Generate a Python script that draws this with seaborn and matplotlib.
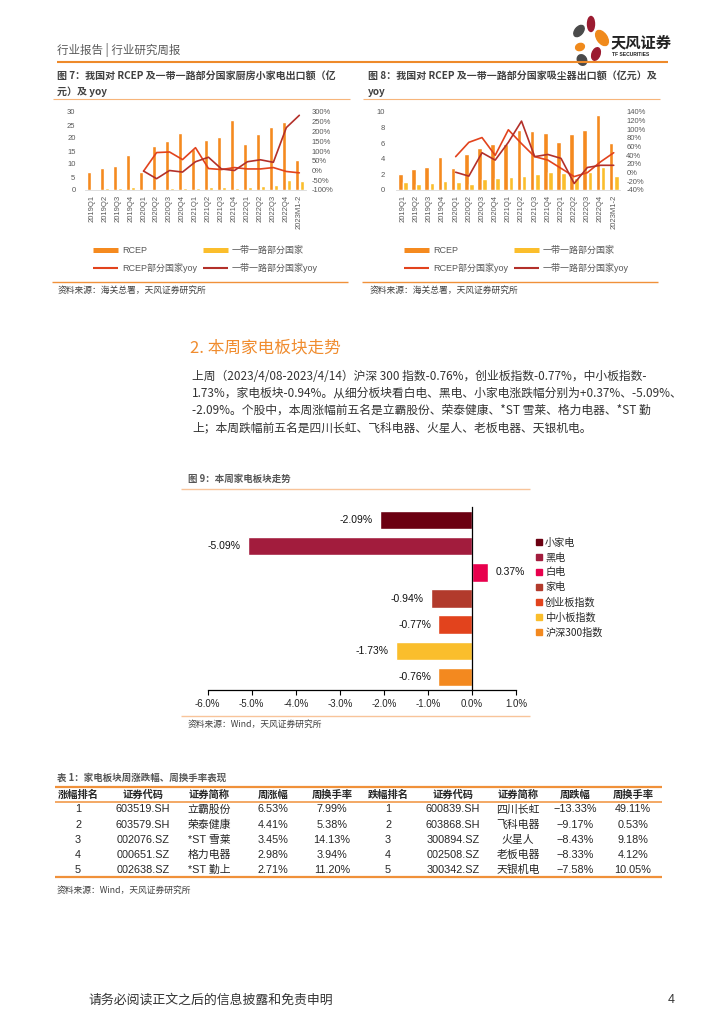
import numpy as np
import pandas as pd
import matplotlib
matplotlib.use("Agg")
import matplotlib.pyplot as plt
import seaborn as sns
from matplotlib.lines import Line2D
from matplotlib.patches import Ellipse
from matplotlib.ticker import FuncFormatter, MultipleLocator

# ---------------------------------------------------------------------------
# Data
# ---------------------------------------------------------------------------
QUARTERS = ["2019Q1", "2019Q2", "2019Q3", "2019Q4", "2020Q1", "2020Q2", "2020Q3",
            "2020Q4", "2021Q1", "2021Q2", "2021Q3", "2021Q4", "2022Q1", "2022Q2",
            "2022Q3", "2022Q4", "2023M1-2"]
YOY_QUARTERS = QUARTERS[4:]
SERIES = ["RCEP", "一带一路部分国家"]
YOY_SERIES = ["RCEP部分国家yoy", "一带一路部分国家yoy"]

# fig 7: kitchen small appliances (100m CNY) and yoy (%)
KITCHEN_RCEP = [7.0, 8.5, 9.2, 13.5, 7.0, 17.0, 18.7, 21.8, 15.8, 19.1, 20.2,
                26.8, 17.8, 21.6, 24.2, 26.0, 11.6]
KITCHEN_BR = [0.3, 0.8, 0.7, 1.0, 0.4, 0.5, 0.9, 0.9, 0.7, 1.0, 1.0, 0.9, 1.0,
              1.6, 1.8, 3.8, 3.3]
KITCHEN_RCEP_YOY = [-3, 92, 95, 56, 117, 10, 5, 15, 8, 8, 15, -5, -12]
KITCHEN_BR_YOY = [-3, -42, 0, -8, 45, 68, 8, 0, 45, 55, 42, 220, 283]

# fig 8: vacuum cleaners (100m CNY) and yoy (%)
VACUUM_RCEP = [2.0, 2.7, 2.9, 4.2, 2.8, 4.6, 5.4, 5.9, 5.85, 7.7, 7.6, 7.35,
               6.2, 7.2, 7.7, 9.6, 6.0]
VACUUM_BR = [1.07, 0.77, 0.94, 1.2, 1.07, 0.77, 1.45, 1.6, 1.7, 1.84, 2.0, 2.35,
             2.2, 1.6, 2.25, 2.9, 1.84]
VACUUM_RCEP_YOY = [37, 70, 81, 40, 99, 67, 37, 29, 10, -9, 0, 25, 46]
VACUUM_BR_YOY = [1, -8, 46, 29, 70, 119, 37, 42, 33, -25, 12, 17, 17]

# fig 9: weekly sector moves (%)
SECTORS = ["小家电", "黑电", "白电", "家电", "创业板指数", "中小板指数", "沪深300指数"]
SECTOR_CHG = [-2.09, -5.09, 0.37, -0.94, -0.77, -1.73, -0.76]
SECTOR_COLORS = ["#6B0011", "#A21C3D", "#E8004D", "#B23A2C", "#E2431D", "#FABE2C", "#F3891F"]

# table 1
UP_HEAD = ["涨幅排名", "证券代码", "证券简称", "周涨幅", "周换手率"]
UP_RANK = ["1", "2", "3", "4", "5"]
UP_CODE = ["603519.SH", "603579.SH", "002076.SZ", "000651.SZ", "002638.SZ"]
UP_NAME = ["立霸股份", "荣泰健康", "*ST 雪莱", "格力电器", "*ST 勤上"]
UP_CHG = ["6.53%", "4.41%", "3.45%", "2.98%", "2.71%"]
UP_TURN = ["7.99%", "5.38%", "14.13%", "3.94%", "11.20%"]
DOWN_HEAD = ["跌幅排名", "证券代码", "证券简称", "周跌幅", "周换手率"]
DOWN_RANK = ["1", "2", "3", "4", "5"]
DOWN_CODE = ["600839.SH", "603868.SH", "300894.SZ", "002508.SZ", "300342.SZ"]
DOWN_NAME = ["四川长虹", "飞科电器", "火星人", "老板电器", "天银机电"]
DOWN_CHG = ["−13.33%", "−9.17%", "−8.43%", "−8.33%", "−7.58%"]
DOWN_TURN = ["49.11%", "0.53%", "9.18%", "4.12%", "10.05%"]

PARAGRAPH = [
    "上周（2023/4/08-2023/4/14）沪深 300 指数-0.76%，创业板指数-0.77%，中小板指数-",
    "1.73%，家电板块-0.94%。从细分板块看白电、黑电、小家电涨跌幅分别为+0.37%、-5.09%、",
    "-2.09%。个股中，本周涨幅前五名是立霸股份、荣泰健康、*ST 雪莱、格力电器、*ST 勤",
    "上；本周跌幅前五名是四川长虹、飞科电器、火星人、老板电器、天银机电。",
]

ORANGE = "#F58A1F"
YELLOW = "#FBBE2C"
RED1 = "#E2431D"
RED2 = "#B3302A"
LINE_ORANGE = "#F0913A"
PEACH = "#F8C49A"
GREY = "#595959"
CJK = ["Noto Sans CJK SC", "DejaVu Sans"]

W, H = 724, 1024

sns.set_theme(style="white")
plt.rcParams["font.family"] = ["Liberation Sans", "Noto Sans CJK SC", "DejaVu Sans"]
plt.rcParams["axes.unicode_minus"] = False

fig = plt.figure(figsize=(W / 100, H / 100), dpi=100)
fig.patch.set_facecolor("white")

# page canvas in pixel coordinates (y down)
bg = fig.add_axes([0, 0, 1, 1])
bg.set_xlim(0, W)
bg.set_ylim(H, 0)
bg.axis("off")


def add_ax(x0, y0, x1, y1):
    return fig.add_axes([x0 / W, 1 - y1 / H, (x1 - x0) / W, (y1 - y0) / H])


def hline(x0, x1, y, color, lw):
    bg.plot([x0, x1], [y, y], color=color, lw=lw, solid_capstyle="butt")


# ---- page header ----
bg.text(57, 50, "行业报告 | 行业研究周报", fontsize=8.3, color=GREY, va="center", family=CJK)
hline(57, 668, 62, "#EE8A2A", 1.5)
for (cx, cy, w, h, a, c) in [(579, 31, 8, 13, 40, "#4A4A4A"), (591, 24, 7, 15, 0, "#9B1B30"),
                             (602, 38, 10, 17, -35, "#F08A1C"), (580, 47, 9, 7, -20, "#F08A1C"),
                             (596, 54, 8, 13, 20, "#9B1B30"), (582, 60, 9, 11, -30, "#4A4A4A")]:
    bg.add_patch(Ellipse((cx, cy), w, h, angle=a, color=c))
bg.text(611, 42, "天风证券", fontsize=11, fontweight="bold", color="#222222", va="center", family=CJK)
bg.text(612, 55, "TF SECURITIES", fontsize=3.6, fontweight="bold", color="#222222", va="center")

# ---- figure titles ----
bg.text(57, 76, "图 7：我国对 RCEP 及一带一路部分国家厨房小家电出口额（亿", fontsize=7.2,
        fontweight="bold", color="#404040", va="center", family=CJK)
bg.text(57, 92, "元）及 yoy", fontsize=7.2, fontweight="bold", color="#404040", va="center", family=CJK)
hline(53, 350, 99, "#F7B57A", 0.8)
bg.text(368, 76, "图 8：我国对 RCEP 及一带一路部分国家吸尘器出口额（亿元）及", fontsize=7.2,
        fontweight="bold", color="#404040", va="center", family=CJK)
bg.text(368, 92, "yoy", fontsize=7.2, fontweight="bold", color="#404040", va="center", family=CJK)
hline(363, 660, 99, "#F7B57A", 0.8)


def draw_export(x0, x1, rcep, br, rcep_yoy, br_yoy, ymax, ystep, ylo2, yhi2, ystep2, leg_x, lpad):
    ax = add_ax(x0, 112, x1, 190)
    df = pd.DataFrame({
        "quarter": QUARTERS * 2,
        "series": [SERIES[0]] * len(QUARTERS) + [SERIES[1]] * len(QUARTERS),
        "value": rcep + br,
    })
    sns.barplot(data=df, x="quarter", y="value", hue="series", palette=[ORANGE, YELLOW],
                width=0.78, gap=0.1, saturation=1, legend=False, ax=ax)
    ax2 = ax.twinx()
    pos = [QUARTERS.index(q) for q in YOY_QUARTERS]
    sns.lineplot(x=pos, y=rcep_yoy, color=RED1, lw=1.2, ax=ax2)
    sns.lineplot(x=pos, y=br_yoy, color=RED2, lw=1.2, ax=ax2)
    ax.set_xlim(-0.5, len(QUARTERS) - 0.5)
    ax.set_ylim(0, ymax)
    ax.set_yticks(np.arange(0, ymax + 0.1, ystep))
    ax2.set_ylim(ylo2, yhi2)
    ax2.set_yticks(np.arange(ylo2, yhi2 + 0.1, ystep2))
    ax2.yaxis.set_major_formatter(FuncFormatter(lambda v, _: f"{int(round(v))}%"))
    ax.set_xlabel("")
    ax.set_ylabel("")
    ax.tick_params(axis="x", labelrotation=90, labelsize=5.5, labelcolor=GREY, length=0, pad=3.5)
    ax.tick_params(axis="y", labelsize=5.5, labelcolor=GREY, length=0, pad=lpad)
    ax2.tick_params(axis="y", labelsize=5.5, labelcolor=GREY, length=0, pad=4.3)
    for a in (ax, ax2):
        for s in a.spines.values():
            s.set_visible(False)
        a.grid(False)
    ax.spines["bottom"].set_visible(True)
    ax.spines["bottom"].set_color("#D9D9D9")
    ax.spines["bottom"].set_linewidth(0.6)
    handles = [Line2D([], [], color=ORANGE, lw=3.6, solid_capstyle="butt"),
               Line2D([], [], color=RED1, lw=1.5, solid_capstyle="butt"),
               Line2D([], [], color=YELLOW, lw=3.6, solid_capstyle="butt"),
               Line2D([], [], color=RED2, lw=1.5, solid_capstyle="butt")]
    labels = [SERIES[0], YOY_SERIES[0], SERIES[1], YOY_SERIES[1]]
    fig.legend(handles, labels, ncol=2, loc="center left", bbox_to_anchor=(leg_x / W, 1 - 259.5 / H),
               frameon=False, fontsize=6.5, handlelength=2.8, handletextpad=0.45, columnspacing=0.6,
               labelspacing=0.9, borderpad=0, borderaxespad=0, labelcolor=GREY)


draw_export(85.2, 305.8, KITCHEN_RCEP, KITCHEN_BR, KITCHEN_RCEP_YOY, KITCHEN_BR_YOY,
            30, 5, -100, 300, 50, 93, 7)
draw_export(396.4, 620.3, VACUUM_RCEP, VACUUM_BR, VACUUM_RCEP_YOY, VACUUM_BR_YOY,
            10, 2, -40, 140, 20, 404, 8)

hline(52, 348, 282, LINE_ORANGE, 1.0)
hline(362, 658, 282, LINE_ORANGE, 1.0)
bg.text(58, 290, "资料来源：海关总署，天风证券研究所", fontsize=6.3, color="#404040", va="center", family=CJK)
bg.text(370, 290, "资料来源：海关总署，天风证券研究所", fontsize=6.3, color="#404040", va="center", family=CJK)

# ---- section text ----
bg.text(190, 348, "2. 本周家电板块走势", fontsize=12, fontweight="medium", color="#F08C2E",
        va="center", family=CJK)
for i, line in enumerate(PARAGRAPH):
    bg.text(192, 376 + i * 17.3, line, fontsize=8.5, color="#333333", va="center", family=CJK)

# ---- figure 9 ----
bg.text(188, 479, "图 9：本周家电板块走势", fontsize=6.8, fontweight="bold", color="#555555",
        va="center", family=CJK)
hline(181, 530, 489, PEACH, 1.0)

ax9 = add_ax(207.7, 507, 516, 690)
sns.barplot(x=SECTOR_CHG, y=SECTORS, hue=SECTORS, palette=SECTOR_COLORS, orient="h",
            width=0.7, saturation=1, legend=False, ax=ax9)
ax9.set_xlim(-6, 1)
ax9.xaxis.set_major_locator(MultipleLocator(1))
ax9.xaxis.set_major_formatter(FuncFormatter(lambda v, _: f"{v + 0:.1f}%"))
for cont, v in zip(ax9.containers, SECTOR_CHG):
    ax9.bar_label(cont, labels=[f"{v:.2f}%"], padding=5, fontsize=7.5, color="#111111")
ax9.set_xlabel("")
ax9.set_ylabel("")
ax9.grid(False)
ax9.tick_params(axis="y", left=False, labelleft=False)
ax9.tick_params(axis="x", bottom=True, direction="out", length=3.5, width=0.8, color="black",
                labelsize=7, labelcolor="#262626", pad=3)
for s in ["top", "right"]:
    ax9.spines[s].set_visible(False)
ax9.spines["bottom"].set_color("black")
ax9.spines["bottom"].set_linewidth(0.9)
ax9.spines["left"].set_position(("data", 0))
ax9.spines["left"].set_color("black")
ax9.spines["left"].set_linewidth(0.9)
sec_handles = [Line2D([], [], marker="s", ls="", color=c, markersize=4) for c in SECTOR_COLORS]
fig.legend(sec_handles, SECTORS, loc="upper left", bbox_to_anchor=(536 / W, 1 - 537.5 / H),
           frameon=False, handlelength=0.6, handletextpad=0.3, labelspacing=0.48,
           borderpad=0, borderaxespad=0, prop={"family": CJK, "size": 7.3})

hline(181, 530, 716, PEACH, 1.0)
bg.text(188, 724, "资料来源：Wind，天风证券研究所", fontsize=6.3, color="#404040", va="center", family=CJK)

# ---- table 1 ----
bg.text(57, 778, "表 1：家电板块周涨跌幅、周换手率表现", fontsize=6.8, fontweight="bold",
        color="#555555", va="center", family=CJK)
hline(55, 662, 787, LINE_ORANGE, 1.6)
hline(55, 662, 802, LINE_ORANGE, 1.1)
hline(55, 662, 877, LINE_ORANGE, 1.6)

up_x = [78, 143, 209, 273, 332]
down_x = [388, 453, 518, 575, 633]
for xs, head, cols in [(up_x, UP_HEAD, [UP_RANK, UP_CODE, UP_NAME, UP_CHG, UP_TURN]),
                       (down_x, DOWN_HEAD, [DOWN_RANK, DOWN_CODE, DOWN_NAME, DOWN_CHG, DOWN_TURN])]:
    for x, h_txt, col in zip(xs, head, cols):
        bg.text(x, 795, h_txt, fontsize=7.4, fontweight="bold", color="#262626",
                ha="center", va="center", family=CJK)
        for r, cell in enumerate(col):
            bg.text(x, 809.5 + r * 15.1, cell, fontsize=7.8, color="#262626", ha="center", va="center")

bg.text(57, 890, "资料来源：Wind，天风证券研究所", fontsize=6.3, color="#404040", va="center", family=CJK)

# ---- footer ----
bg.text(88, 1000, "请务必阅读正文之后的信息披露和免责申明", fontsize=9.3, color="#333333",
        va="center", family=CJK)
bg.text(668, 1000, "4", fontsize=9, color="#333333", va="center")

fig.savefig("out.png", dpi=100)
